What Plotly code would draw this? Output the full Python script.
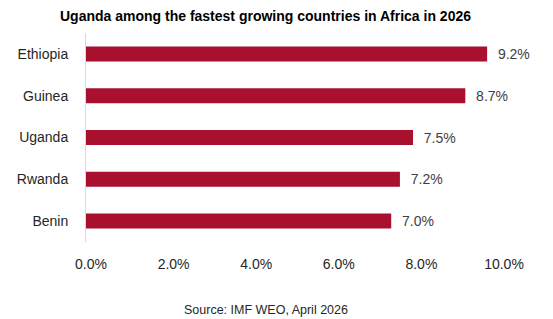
import plotly.graph_objects as go

countries = ["Ethiopia", "Guinea", "Uganda", "Rwanda", "Benin"]
growth = [9.2, 8.7, 7.5, 7.2, 7.0]
tick_vals = [0, 2, 4, 6, 8, 10]
tick_text = ["0.0%", "2.0%", "4.0%", "6.0%", "8.0%", "10.0%"]

title_text = "Uganda among the fastest growing countries in Africa in 2026"
source_text = "Source: IMF WEO, April 2026"

bar_color = "#A8102E"
font_fam = "Liberation Sans, Arial, sans-serif"

fig = go.Figure()
fig.add_trace(go.Bar(
    x=growth, y=countries, orientation="h",
    marker=dict(color=bar_color, line=dict(width=0)),
    text=[f"  {v:.1f}%" for v in growth], textposition="outside",
    textfont=dict(size=14, color="#404040", family=font_fam),
    constraintext="none", cliponaxis=False, width=0.36,
))
# invisible trace to carry the tick label axis
fig.add_trace(go.Scatter(x=[0, 10], y=[countries[0], countries[0]], xaxis="x2",
                         mode="markers", marker=dict(opacity=0), hoverinfo="skip",
                         showlegend=False))

fig.update_layout(
    width=553, height=319,
    margin=dict(l=86, r=31, t=33, b=77),
    paper_bgcolor="white", plot_bgcolor="white",
    showlegend=False,
    title=dict(text=f"<b>{title_text}</b>", x=265.5 / 553, xref="container",
               xanchor="center", y=1 - 16 / 319, yanchor="middle", yref="container",
               font=dict(size=14, color="#000000", family=font_fam)),
    xaxis=dict(range=[0, 10], showgrid=False, zeroline=False, showticklabels=False,
               showline=False, ticks=""),
    xaxis2=dict(range=[-0.121, 10.436], overlaying="x", anchor="y", side="bottom",
                tickvals=tick_vals, ticktext=tick_text, showgrid=False, zeroline=False,
                showline=False, ticks="", ticklabelstandoff=12,
                tickfont=dict(size=14, color="#262626", family=font_fam)),
    yaxis=dict(categoryorder="array", categoryarray=countries[::-1],
               showline=True, linecolor="#D9D9D9", linewidth=1, ticks="",
               showgrid=False, ticklabelstandoff=14,
               tickfont=dict(size=14, color="#262626", family=font_fam)),
    annotations=[dict(text=source_text, x=(266 - 86) / 436, xref="paper", xanchor="center",
                      y=-(310 - 242) / 209, yref="paper", yanchor="middle", showarrow=False,
                      font=dict(size=12.5, color="#262626", family=font_fam))],
)

fig.write_html("out.html")
